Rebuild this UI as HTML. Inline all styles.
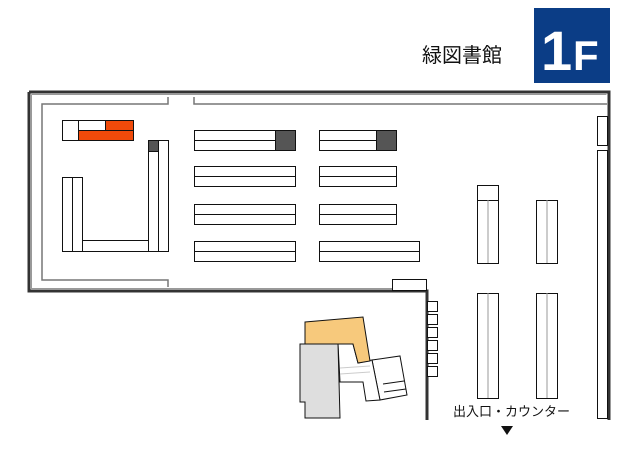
<!DOCTYPE html>
<html><head><meta charset="utf-8"><style>
html,body{margin:0;padding:0;background:#fff;width:640px;height:452px;overflow:hidden}
svg{display:block}
</style></head><body>
<svg width="640" height="452" viewBox="0 0 640 452" xmlns="http://www.w3.org/2000/svg" font-family="'Liberation Sans','Noto Sans CJK JP',sans-serif">
<rect x="534" y="8" width="76" height="75" fill="#0b3d86"/>
<text x="541" y="70" font-size="56" font-weight="bold" fill="#fff" font-family="'Liberation Sans',sans-serif">1</text>
<text x="573" y="70" font-size="42" font-weight="bold" fill="#fff" font-family="'Liberation Sans',sans-serif">F</text>
<text x="422" y="62" font-size="20" fill="#111">緑図書館</text>
<!-- outer wall -->
<path d="M29 92 H609 V420 M29 92 V291 H427 V420" fill="none" stroke="#333" stroke-width="3"/>
<path d="M31.5 94.5 H606.5 M31.5 94.5 V288.5 H425" fill="none" stroke="#999" stroke-width="1"/>
<!-- inner gray wall -->
<g fill="none" stroke="#777" stroke-width="1.5">
<path d="M168 97 V104 H42 V280 H168 V287"/>
<path d="M194 97 V104 H607"/>
</g>
<!-- right wall boxes -->
<g fill="#fff" stroke="#111" stroke-width="1">
<rect x="597.5" y="116.5" width="10" height="29"/>
<rect x="597.5" y="150.5" width="10" height="268"/>
</g>
<!-- left area -->
<g stroke="#111" stroke-width="1">
<rect x="62.5" y="120.5" width="16" height="20" fill="#fff"/>
<rect x="78.5" y="120.5" width="27" height="10" fill="#fff"/>
<rect x="105.5" y="120.5" width="28" height="10" fill="#f04a0a"/>
<rect x="78.5" y="130.5" width="55" height="10" fill="#f04a0a"/>
<rect x="62.5" y="177.5" width="10" height="74" fill="#fff"/>
<rect x="72.5" y="177.5" width="10" height="74" fill="#fff"/>
<rect x="82.5" y="240.5" width="66" height="11" fill="#fff"/>
<rect x="148.5" y="140.5" width="10" height="111" fill="#fff"/>
<rect x="158.5" y="140.5" width="10" height="111" fill="#fff"/>
<rect x="148.5" y="140.5" width="10" height="11" fill="#555"/>
</g>
<!-- shelves -->
<g stroke="#111" stroke-width="1" fill="#fff">
<rect x="194.5" y="130.5" width="101" height="20"/><line x1="194" y1="140.5" x2="275" y2="140.5"/><rect x="275.5" y="130.5" width="20" height="20" fill="#555"/>
<rect x="319.5" y="130.5" width="77" height="20"/><line x1="319" y1="140.5" x2="376" y2="140.5"/><rect x="376.5" y="130.5" width="20" height="20" fill="#555"/>
<rect x="194.5" y="166.5" width="101" height="20"/><line x1="194" y1="176.5" x2="295" y2="176.5"/>
<rect x="194.5" y="204.5" width="101" height="20"/><line x1="194" y1="214.5" x2="295" y2="214.5"/>
<rect x="194.5" y="241.5" width="101" height="20"/><line x1="194" y1="251.5" x2="295" y2="251.5"/>
<rect x="319.5" y="166.5" width="77" height="20"/><line x1="319" y1="176.5" x2="396" y2="176.5"/>
<rect x="319.5" y="204.5" width="77" height="20"/><line x1="319" y1="214.5" x2="396" y2="214.5"/>
<rect x="319.5" y="241.5" width="100" height="20"/><line x1="319" y1="251.5" x2="419" y2="251.5"/>
<!-- right shelves -->
<rect x="477.5" y="185.5" width="21" height="15"/>
<rect x="477.5" y="200.5" width="21" height="63"/><line x1="488" y1="200" x2="488" y2="263" stroke="#999"/>
<rect x="536.5" y="200.5" width="21" height="63"/><line x1="547" y1="200" x2="547" y2="263" stroke="#999"/>
<rect x="477.5" y="293.5" width="21" height="105"/><line x1="488" y1="293" x2="488" y2="398" stroke="#999"/>
<rect x="536.5" y="293.5" width="21" height="105"/><line x1="547" y1="293" x2="547" y2="398" stroke="#999"/>
<!-- lower small boxes -->
<rect x="392.5" y="279.5" width="34" height="11"/>
<rect x="427.5" y="301.5" width="10" height="10"/>
<rect x="427.5" y="314.5" width="10" height="10"/>
<rect x="427.5" y="327.5" width="10" height="10"/>
<rect x="427.5" y="340.5" width="10" height="10"/>
<rect x="427.5" y="353.5" width="10" height="10"/>
<rect x="427.5" y="366.5" width="10" height="10"/>
</g>
<!-- building -->
<g stroke="#111" stroke-width="1">
<polygon points="372,360 400,356 407,395 380,400" fill="#fff"/>
<line x1="383" y1="384" x2="404" y2="381"/><line x1="384" y1="392" x2="406" y2="389"/>
<polygon points="338,344 353,344 358,363 372,360 380,400 366,401 363,382 340,382" fill="#fff"/>
<line x1="340" y1="368" x2="370" y2="366" stroke="#ccc"/><line x1="340" y1="374" x2="370" y2="372" stroke="#ccc"/>
<polygon points="305,322 363,317 370,361 358,363 353,344 305,344" fill="#f7c97c"/>
<polygon points="300,344 338,344 340,418 305,418 305,402 300,402" fill="#dedede"/>
</g>
<text x="453" y="416" font-size="13" fill="#111">出入口・カウンター</text>
<polygon points="501,426 513,426 507,435" fill="#111"/>
</svg>
</body></html>
